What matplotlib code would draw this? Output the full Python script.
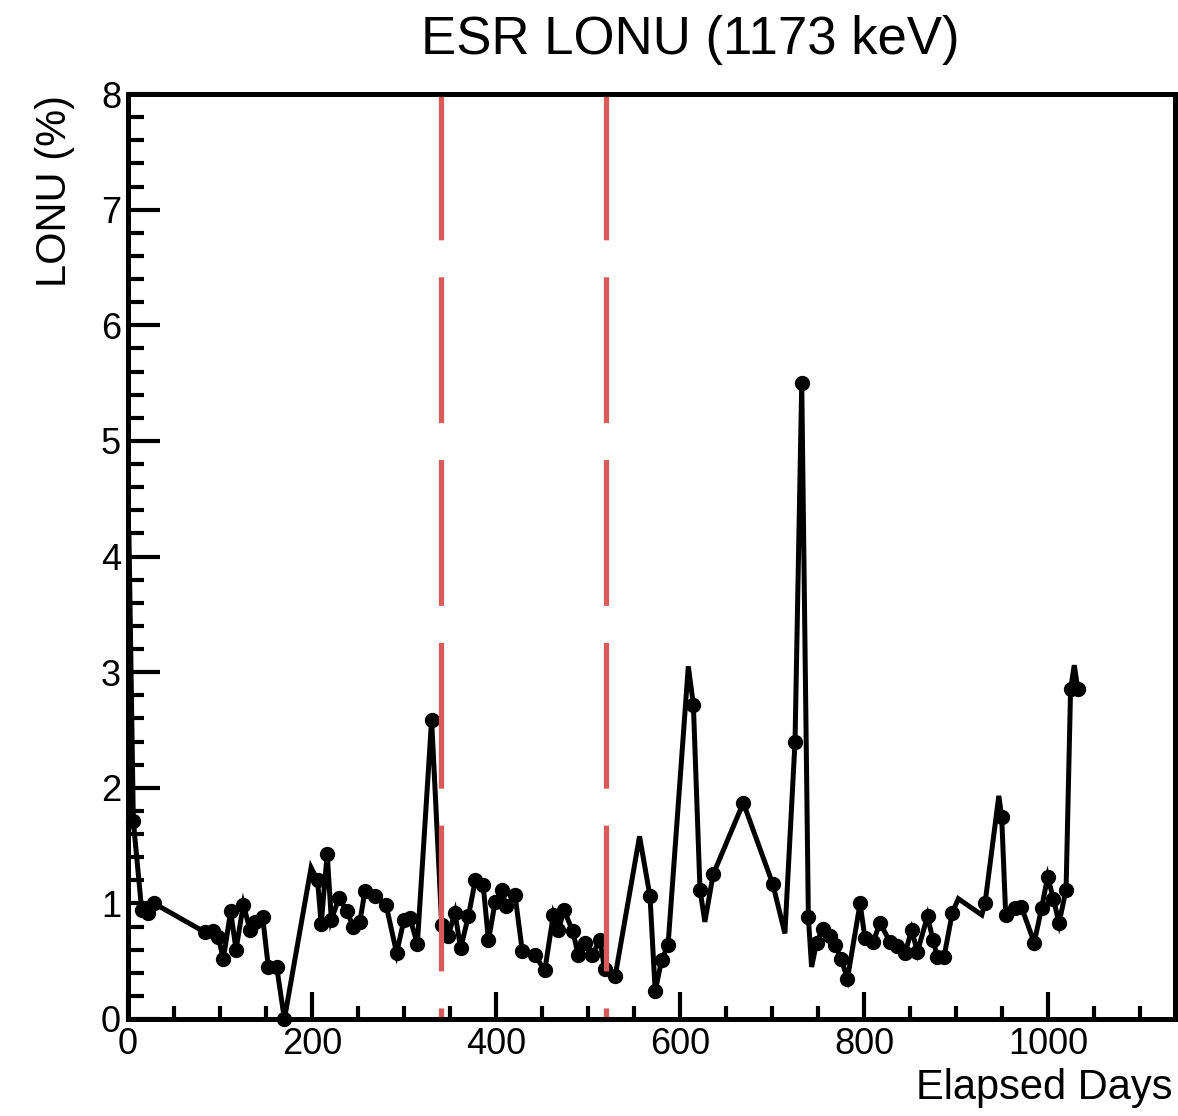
import matplotlib
matplotlib.use("Agg")
import matplotlib.pyplot as plt
import numpy as np
from matplotlib.ticker import MultipleLocator

# ---------------- data ----------------
days = [1.0, 5.8, 14.9, 22.0, 28.3, 83.7, 92.0, 98.0, 103.6, 111.6, 117.4, 125.4,
        132.6, 138.0, 146.4, 152.5, 161.6, 170.0, 199.0, 206.0, 210.0, 216.5,
        221.0, 229.5, 237.7, 245.0, 252.0, 257.6, 268.5, 280.4, 292.0, 300.0,
        306.5, 314.5, 330.0, 341.0, 348.0, 355.4, 361.5, 370.0, 377.5, 386.0,
        391.8, 399.0, 406.0, 411.0, 420.7, 428.5, 442.4, 453.0, 462.3, 467.7,
        474.0, 483.4, 489.5, 496.7, 504.0, 513.0, 518.0, 529.5, 556.0, 567.4,
        573.0, 580.0, 587.0, 609.0, 614.5, 621.7, 627.0, 636.0, 668.8, 700.7,
        714.0, 725.0, 732.3, 739.5, 743.0, 748.5, 755.0, 763.0, 768.5, 775.0,
        782.0, 795.7, 801.0, 810.0, 817.4, 828.0, 835.5, 844.6, 851.8, 858.0,
        869.0, 875.0, 879.7, 887.0, 896.0, 902.5, 928.0, 931.5, 946.5, 949.6,
        954.0, 964.0, 971.0, 985.0, 993.0, 999.6, 1005.8, 1012.0, 1019.6,
        1024.5, 1028.5, 1032.5]
lonu = [4.20, 1.71, 0.94, 0.92, 1.00, 0.75, 0.76, 0.71, 0.52, 0.93, 0.60, 0.99,
        0.77, 0.84, 0.88, 0.45, 0.45, 0.00, 1.31, 1.20, 0.82, 1.43,
        0.86, 1.05, 0.93, 0.80, 0.84, 1.11, 1.06, 0.99, 0.57, 0.86,
        0.87, 0.65, 2.59, 0.81, 0.72, 0.92, 0.61, 0.89, 1.20, 1.16,
        0.68, 1.01, 1.12, 0.98, 1.07, 0.59, 0.55, 0.42, 0.90, 0.77,
        0.94, 0.76, 0.55, 0.66, 0.55, 0.68, 0.43, 0.37, 1.58, 1.06,
        0.24, 0.51, 0.64, 3.05, 2.72, 1.12, 0.84, 1.25, 1.87, 1.17,
        0.74, 2.40, 5.50, 0.88, 0.45, 0.66, 0.78, 0.72, 0.64, 0.52,
        0.35, 1.00, 0.70, 0.67, 0.83, 0.67, 0.63, 0.57, 0.77, 0.58,
        0.89, 0.68, 0.54, 0.54, 0.92, 1.04, 0.90, 1.00, 1.93, 1.75,
        0.90, 0.96, 0.97, 0.66, 0.96, 1.23, 1.04, 0.83, 1.12,
        2.85, 3.06, 2.85]
# 1 = point drawn with a marker, 0 = vertex of the curve only
marked = [0, 1, 1, 1, 1, 1, 1, 1, 1, 1, 1, 1,
          1, 1, 1, 1, 1, 1, 0, 1, 1, 1,
          1, 1, 1, 1, 1, 1, 1, 1, 1, 1,
          1, 1, 1, 1, 1, 1, 1, 1, 1, 1,
          1, 1, 1, 1, 1, 1, 1, 1, 1, 1,
          1, 1, 1, 1, 1, 1, 1, 1, 0, 1,
          1, 1, 1, 0, 1, 1, 0, 1, 1, 1,
          0, 1, 1, 1, 0, 1, 1, 1, 1, 1,
          1, 1, 1, 1, 1, 1, 1, 1, 1, 1,
          1, 1, 1, 1, 1, 0, 0, 1, 0, 1,
          1, 1, 1, 1, 1, 1, 1, 1, 1,
          1, 0, 1]
redline_days = [340, 520]

title = "ESR LONU (1173 keV)"
xlabel = "Elapsed Days"
ylabel = "LONU (%)"

# ---------------- style ----------------
plt.rcParams['font.family'] = ['Liberation Sans', 'DejaVu Sans']
plt.rcParams['lines.scale_dashes'] = False

W, H = 1178, 1116
fig = plt.figure(figsize=(W / 100, H / 100), dpi=100)
ax = fig.add_axes([128 / W, (H - 1019) / H, 1047 / W, 925 / H])

ax.set_xlim(0, 1138)
ax.set_ylim(0, 8)

d = np.asarray(days)
v = np.asarray(lonu)
m = np.asarray(marked, dtype=bool)

ax.plot(d, v, color='black', lw=3.6, solid_joinstyle='miter', zorder=2, clip_on=False)
ax.plot(d[m], v[m], 'o', color='black', ms=10, zorder=3, clip_on=False)

for xr in redline_days:
    ax.plot([xr, xr], [8, 0], color='#d75b58', lw=3.8, dashes=(105, 26.6),
            dash_capstyle='butt', zorder=4)

for s in ax.spines.values():
    s.set_linewidth(3.6)
    s.set_zorder(5)

ax.xaxis.set_major_locator(MultipleLocator(200))
ax.xaxis.set_minor_locator(MultipleLocator(50))
ax.yaxis.set_major_locator(MultipleLocator(1))
ax.yaxis.set_minor_locator(MultipleLocator(0.2))
ax.tick_params(which='both', direction='in', top=False, right=False, width=3.0,
               labelsize=26, colors='black')
ax.tick_params(axis='y', which='major', length=23, pad=5)
ax.tick_params(axis='y', which='minor', length=11.5)
ax.tick_params(axis='x', which='major', length=19.5, pad=6)
ax.tick_params(axis='x', which='minor', length=9.5)

fig.text(690 / W, 1 - 40 / H, title, ha='center', va='center', fontsize=38)
fig.text(55 / W, 1 - 95 / H, ylabel, rotation=90, ha='center', va='top', fontsize=30)
fig.text(1172 / W, 1 - 1088 / H, xlabel, ha='right', va='center', fontsize=30)

fig.savefig('out.png', dpi=100)
